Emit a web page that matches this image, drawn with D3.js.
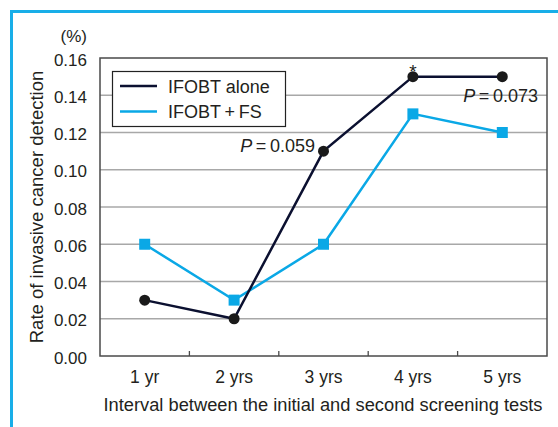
<!DOCTYPE html>
<html><head><meta charset="utf-8">
<script src="https://cdn.jsdelivr.net/npm/d3@7"></script>
<style>body{margin:0;background:#fff}svg{display:block;font-family:"Liberation Sans",Arial,sans-serif}</style>
</head><body><svg id="c" width="558" height="427"></svg>
<script>
const categories = ["1 yr","2 yrs","3 yrs","4 yrs","5 yrs"];
const aloneValues = [0.03,0.02,0.11,0.15,0.15];
const fsValues = [0.06,0.03,0.06,0.13,0.12];
const yTicks = [0,0.02,0.04,0.06,0.08,0.10,0.12,0.14,0.16];
const seriesNames = ["IFOBT alone","IFOBT\u2009+\u2009FS"];

const svg = d3.select("#c");
const navy = "#0b1030", blue = "#0aa8e6", frameBlue = "#18aee8", textCol = "#231f20";
const L=100,R=547,T=58,B=356;
const FF = "Liberation Sans, Arial, sans-serif";

// outer frame
svg.append("path").attr("d","M11.5,427 V11.5 H558").attr("fill","none").attr("stroke",frameBlue).attr("stroke-width",3);

const x = d3.scaleBand().domain(categories).range([L,R]);
const y = d3.scaleLinear().domain([0,0.16]).range([B,T]);

// gridlines
svg.append("g").selectAll("line").data(yTicks.filter(t=>t>0&&t<0.16)).join("line")
  .attr("x1",L).attr("x2",R).attr("y1",d=>y(d)).attr("y2",d=>y(d))
  .attr("stroke","#a8a8a8").attr("stroke-width",1.3);

// frame
svg.append("rect").attr("x",L).attr("y",T).attr("width",R-L).attr("height",B-T)
  .attr("fill","none").attr("stroke","#4a4a4a").attr("stroke-width",1.5);

// y axis labels
const ya = svg.append("g").attr("transform",`translate(${L},0)`)
  .call(d3.axisLeft(y).tickValues(yTicks).tickFormat(d3.format(".2f")).tickSize(0).tickPadding(13));
ya.select(".domain").remove();
ya.selectAll("text").attr("font-size",17).attr("fill",textCol).attr("font-family",FF).attr("dy","0.42em");

// x axis
const xa = svg.append("g").attr("transform",`translate(0,${B})`)
  .call(d3.axisBottom(x).tickSize(0).tickPadding(0));
xa.select(".domain").remove();
xa.selectAll("text").attr("font-size",17.5).attr("fill",textCol).attr("font-family",FF).attr("dy",null).attr("y",26.5);
// inner ticks at band boundaries
svg.append("g").selectAll("line").data(categories.slice(1)).join("line")
  .attr("x1",d=>x(d)).attr("x2",d=>x(d)).attr("y1",B).attr("y2",B-5)
  .attr("stroke","#4a4a4a").attr("stroke-width",1.3);

// titles
svg.append("text").attr("x",323).attr("y",411).attr("text-anchor","middle").attr("font-size",18.3).attr("fill",textCol)
  .text("Interval between the initial and second screening tests");
svg.append("text").attr("transform","translate(43,207) rotate(-90)").attr("text-anchor","middle").attr("font-size",18.5).attr("fill",textCol)
  .text("Rate of invasive cancer detection");
svg.append("text").attr("x",87).attr("y",42).attr("text-anchor","end").attr("font-size",17).attr("fill",textCol).text("(%)");

const line = d3.line().x((d,i)=>x(categories[i])+x.bandwidth()/2).y(d=>y(d));

// FS series
svg.append("path").datum(fsValues).attr("d",line).attr("fill","none").attr("stroke",blue).attr("stroke-width",2.5);
svg.append("g").selectAll("rect").data(fsValues).join("rect")
  .attr("x",(d,i)=>x(categories[i])+x.bandwidth()/2-5.5).attr("y",d=>y(d)-5.5)
  .attr("width",11).attr("height",11).attr("fill",blue);

// alone series
svg.append("path").datum(aloneValues).attr("d",line).attr("fill","none").attr("stroke",navy).attr("stroke-width",2.5);
svg.append("g").selectAll("circle").data(aloneValues).join("circle")
  .attr("cx",(d,i)=>x(categories[i])+x.bandwidth()/2).attr("cy",d=>y(d)).attr("r",5.5).attr("fill","#1a1a1a");

// annotations
function pLabel(xe,yb,val){
  const t = svg.append("text").attr("x",xe).attr("y",yb).attr("text-anchor","end").attr("font-size",18).attr("fill",textCol);
  t.append("tspan").attr("font-style","italic").text("P");
  t.append("tspan").text("\u2009=\u20090."+val);
}
pLabel(315,152,"059");
pLabel(538,102,"073");
svg.append("text").attr("x",x("4 yrs")+x.bandwidth()/2).attr("y",78).attr("text-anchor","middle").attr("font-size",19).attr("fill",textCol).text("*");

// legend
const lg = svg.append("g");
lg.append("rect").attr("x",112.5).attr("y",71.5).attr("width",173).attr("height",55).attr("fill","#fff").attr("stroke","#222").attr("stroke-width",1.2);
[navy,blue].forEach((c,i)=>{
  const yy = 86 + i*25.5;
  lg.append("line").attr("x1",120).attr("x2",157).attr("y1",yy).attr("y2",yy).attr("stroke",c).attr("stroke-width",2.5);
  lg.append("text").attr("x",168).attr("y",yy+6.5).attr("font-size",18).attr("fill",textCol).text(seriesNames[i]);
});
</script></body></html>
